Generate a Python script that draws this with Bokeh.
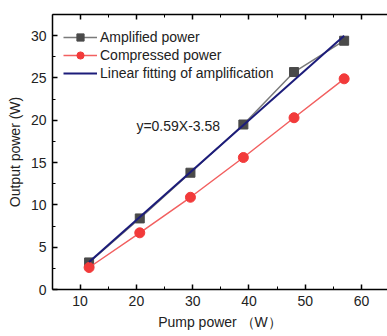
from bokeh.plotting import figure
from bokeh.models import Legend, LegendItem, LinearAxis, FixedTicker, Label, Range1d
from bokeh.embed import file_html
from bokeh.resources import INLINE

pump_amp = [11.6, 20.6, 29.6, 39.0, 48.0, 56.9]
amplified = [3.2, 8.4, 13.8, 19.5, 25.7, 29.4]
pump_comp = [11.6, 20.6, 29.6, 39.0, 48.0, 56.9]
compressed = [2.6, 6.7, 10.9, 15.6, 20.3, 24.9]
slope, intercept = 0.59, -3.58
fit_x = [pump_amp[0], pump_amp[-1]]
fit_y = [slope * v + intercept for v in fit_x]
x_ticks = [10, 20, 30, 40, 50, 60]
y_ticks = [0, 5, 10, 15, 20, 25, 30]

FONT = "Liberation Sans"

p = figure(width=387, height=336, output_backend="svg", toolbar_location=None,
           x_range=Range1d(5.1, 64.6), y_range=Range1d(0, 32.5),
           min_border_left=52, min_border_right=0, min_border_top=14, min_border_bottom=47)
p.grid.visible = False
p.outline_line_color = None
p.background_fill_color = "white"

for ax, ticks in ((p.xaxis[0], x_ticks), (p.yaxis[0], y_ticks)):
    ax.ticker = FixedTicker(ticks=ticks, minor_ticks=[t + (ticks[1]-ticks[0]) / 2 for t in ticks] + [ticks[0] - (ticks[1]-ticks[0]) / 2])
    ax.major_tick_in = 5
    ax.major_tick_out = 0
    ax.minor_tick_in = 3
    ax.minor_tick_out = 0
    ax.axis_line_width = 1.5
    ax.major_tick_line_width = 1.5
    ax.major_label_text_font = FONT
    ax.major_label_text_font_size = "14px"
    ax.major_label_text_color = "#222222"
    ax.axis_label_text_font = FONT
    ax.axis_label_text_font_size = "14px"
    ax.axis_label_text_font_style = "normal"
    ax.axis_label_text_color = "#222222"

p.xaxis[0].axis_label = "Pump power （W）"
p.yaxis[0].axis_label = "Output power (W)"
p.xaxis[0].major_label_standoff = 6
p.yaxis[0].major_label_standoff = 6

top = LinearAxis(ticker=FixedTicker(ticks=x_ticks, minor_ticks=[t + 5 for t in x_ticks] + [5]),
                 major_label_text_font_size="0px", major_tick_in=5, major_tick_out=0,
                 minor_tick_in=3, minor_tick_out=0, axis_line_width=1.5, major_tick_line_width=1.5)
top.major_label_text_color = None
p.add_layout(top, "above")

r_amp_line = p.line(pump_amp, amplified, line_color="#7a7a7a", line_width=1.5)
r_amp_pts = p.scatter(pump_amp, amplified, marker="square", size=9, fill_color="#4a4a4a", line_color="#4a4a4a")
r_comp_line = p.line(pump_comp, compressed, line_color="#f26060", line_width=1.5)
r_comp_pts = p.scatter(pump_comp, compressed, marker="circle", size=10, fill_color="#f23a3a", line_color="#f23a3a")
r_fit = p.line(fit_x, fit_y, line_color="#1c1c7a", line_width=2)

legend = Legend(items=[
    LegendItem(label="Amplified power", renderers=[r_amp_line, r_amp_pts]),
    LegendItem(label="Compressed power", renderers=[r_comp_line, r_comp_pts]),
    LegendItem(label="Linear fitting of amplification", renderers=[r_fit]),
], location=(11, 207), margin=0, padding=0, spacing=0, glyph_width=34, glyph_height=18,
   label_height=18, label_standoff=3, label_text_font=FONT, label_text_font_size="14px",
   label_text_color="#222222", background_fill_alpha=0, border_line_color=None)
p.add_layout(legend)

p.add_layout(Label(x=20, y=19.3, text=f"y={slope}X{intercept}", text_font=FONT,
                   text_font_size="14px", text_color="#222222", text_baseline="middle"))

open("out.html", "w").write(file_html(p, INLINE))
